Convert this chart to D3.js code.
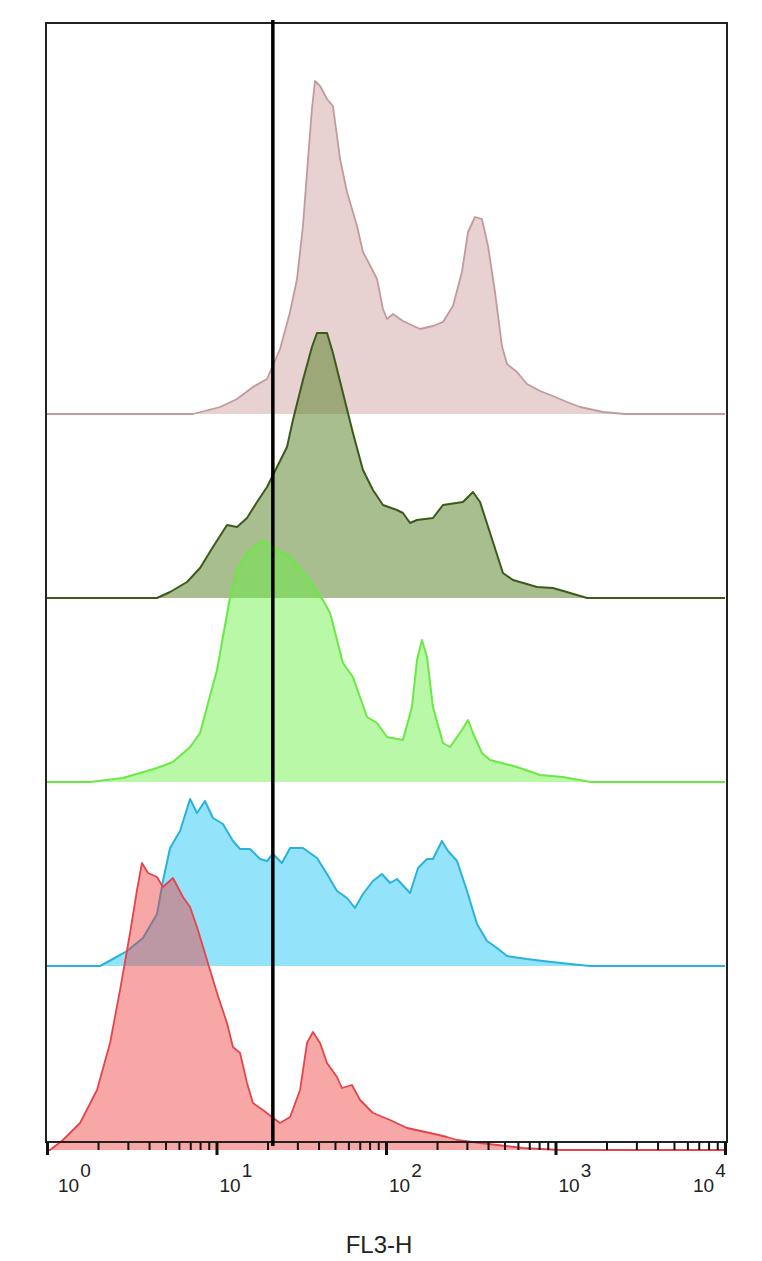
<!DOCTYPE html>
<html><head><meta charset="utf-8">
<script src="https://cdn.jsdelivr.net/npm/d3@7"></script>
<style>body{margin:0;background:#fff}svg{display:block}</style>
</head><body>
<script>
// ---- data (x = log10 of FL3-H, y = event count) ----
const decades = [1, 10, 100, 1000, 10000];
const decadeExponents = ["0", "1", "2", "3", "4"];
const xTitle = "FL3-H";
const gateFL3 = 21.5;

const pinkSeries = [[0,0],[0.861,0],[1.021,7],[1.121,15],[1.215,27],[1.298,35],[1.316,42],[1.375,65],[1.434,102],[1.475,135],[1.510,188],[1.540,255],[1.563,305],[1.581,333],[1.611,328],[1.652,315],[1.687,308],[1.729,255],[1.770,222],[1.829,188],[1.864,162],[1.917,145],[1.947,135],[1.982,105],[2.006,95],[2.041,100],[2.100,93],[2.201,85],[2.277,88],[2.336,92],[2.395,108],[2.448,142],[2.484,182],[2.525,197],[2.566,195],[2.602,168],[2.643,122],[2.684,68],[2.714,50],[2.773,42],[2.832,30],[2.909,23],[2.985,18],[3.068,12],[3.145,7],[3.280,2],[3.410,0],[4,0]];
const darkGreenSeries = [[0,0],[0.649,0],[0.726,6],[0.826,16],[0.903,30],[0.979,51],[1.062,73],[1.121,71],[1.180,80],[1.239,96],[1.298,111],[1.357,131],[1.416,151],[1.451,178],[1.510,218],[1.563,251],[1.593,265],[1.652,265],[1.687,245],[1.746,205],[1.805,165],[1.864,128],[1.923,108],[1.982,93],[2.065,88],[2.100,85],[2.142,75],[2.183,78],[2.277,80],[2.336,93],[2.454,96],[2.513,106],[2.555,96],[2.614,65],[2.690,25],[2.749,18],[2.891,11],[2.985,10],[3.086,5],[3.186,0],[4,0]];
const lightGreenSeries = [[0,0],[0.254,0],[0.448,4],[0.649,14],[0.743,20],[0.844,35],[0.903,49],[0.944,75],[1.003,112],[1.038,145],[1.080,185],[1.121,212],[1.180,229],[1.239,237],[1.274,242],[1.357,232],[1.434,225],[1.534,205],[1.628,182],[1.670,169],[1.746,119],[1.805,105],[1.888,65],[1.947,59],[2.006,45],[2.100,42],[2.153,75],[2.183,122],[2.212,142],[2.242,125],[2.277,75],[2.336,39],[2.378,35],[2.448,52],[2.484,62],[2.513,49],[2.566,29],[2.614,22],[2.773,15],[2.909,7],[3.044,5],[3.204,0],[4,0]];
const blueSeries = [[0,0],[0.313,0],[0.389,7],[0.472,15],[0.566,28],[0.649,52],[0.684,85],[0.726,118],[0.785,135],[0.844,167],[0.885,153],[0.932,165],[0.979,148],[1.038,142],[1.097,125],[1.139,117],[1.198,117],[1.257,107],[1.298,105],[1.333,112],[1.386,103],[1.434,118],[1.510,118],[1.593,108],[1.652,92],[1.711,75],[1.770,68],[1.817,58],[1.864,72],[1.923,85],[1.976,92],[2.024,83],[2.065,87],[2.142,73],[2.189,98],[2.242,107],[2.277,107],[2.330,125],[2.366,115],[2.419,105],[2.478,75],[2.537,42],[2.596,25],[2.655,18],[2.714,10],[2.832,7],[2.926,5],[3.086,2],[3.204,0],[4,0]];
const redSeries = [[0,0],[0.018,0],[0.094,10],[0.195,27],[0.295,60],[0.372,107],[0.431,160],[0.490,217],[0.531,260],[0.560,287],[0.596,277],[0.649,273],[0.684,263],[0.743,272],[0.802,253],[0.844,243],[0.885,223],[0.944,190],[1.003,157],[1.062,127],[1.097,103],[1.139,97],[1.180,67],[1.215,47],[1.274,40],[1.327,33],[1.375,27],[1.434,33],[1.493,60],[1.534,107],[1.569,118],[1.611,107],[1.652,87],[1.711,73],[1.740,62],[1.799,65],[1.847,50],[1.923,37],[2.024,30],[2.124,22],[2.260,17],[2.360,13],[2.419,10],[2.555,7],[2.808,2],[3.027,0],[4,0]];

// ---- layout / style ----
const W = 762, H = 1261;
const frame = {left: 46, top: 23, right: 727, bottom: 1142};
const laneStep = 184;
const layers = [
  {data: pinkSeries,       lane: 4, fill: "rgba(195,140,140,0.40)", stroke: "#c29a9e", sw: 1.8},
  {data: darkGreenSeries,  lane: 3, fill: "rgba(90,130,40,0.52)",   stroke: "#3b5a1b", sw: 2},
  {data: lightGreenSeries, lane: 2, fill: "rgba(100,240,60,0.46)",  stroke: "#6ae846", sw: 2},
  {data: blueSeries,       lane: 1, fill: "rgba(40,200,245,0.50)",  stroke: "#2ab2dc", sw: 2},
  {data: redSeries,        lane: 0, fill: "rgba(240,60,60,0.45)",   stroke: "#e4444c", sw: 1.8}
];

const svg = d3.select("body").append("svg").attr("width", W).attr("height", H)
  .style("font-family", "'Liberation Sans', Arial, sans-serif");

const x = d3.scaleLog().domain([1, 10000]).range([47, 725]);
const y = d3.scaleLinear().domain([0, 1127]).range([1150, 23]);

layers.forEach(L => {
  const off = L.lane * laneStep;
  const area = d3.area()
    .x(d => x(Math.pow(10, d[0])))
    .y0(y(off))
    .y1(d => y(d[1] + off));
  const line = d3.line()
    .x(d => x(Math.pow(10, d[0])))
    .y(d => y(d[1] + off));
  svg.append("path").datum(L.data).attr("d", area).attr("fill", L.fill);
  svg.append("path").datum(L.data).attr("d", line).attr("fill", "none")
    .attr("stroke", L.stroke).attr("stroke-width", L.sw).attr("stroke-linejoin", "round");
});

// frame
svg.append("rect").attr("x", frame.left).attr("y", frame.top)
  .attr("width", frame.right - frame.left).attr("height", frame.bottom - frame.top)
  .attr("fill", "none").attr("stroke", "#222").attr("stroke-width", 2);

// axis ticks
const tickVals = [];
decades.slice(0, -1).forEach(d => { for (let m = 1; m <= 9; m++) tickVals.push(m * d); });
tickVals.push(decades[decades.length - 1]);
const isMajor = v => decades.some(d => Math.abs(v - d) < 1e-9);

const axis = d3.axisBottom(x).tickValues(tickVals).tickFormat("").tickSizeOuter(0);
const gAxis = svg.append("g").attr("transform", `translate(0,${frame.bottom})`).call(axis);
gAxis.select(".domain").remove();
gAxis.selectAll(".tick line")
  .attr("y2", d => isMajor(d) ? 13 : 8)
  .attr("stroke", "#111")
  .attr("stroke-width", d => isMajor(d) ? 3 : 2);

// decade labels 10^n
const labelW = 36;
decades.forEach((d, i) => {
  const x0 = Math.min(Math.max(x(d) + 3, 58), 729 - labelW);
  const t = svg.append("text").attr("x", x0).attr("y", 1192)
    .attr("font-size", 19).attr("fill", "#222");
  t.append("tspan").text("10");
  t.append("tspan").attr("dx", 1).attr("dy", -15).text(decadeExponents[i]);
});

// axis title
svg.append("text").attr("x", 379).attr("y", 1253).attr("text-anchor", "middle")
  .attr("font-size", 24).attr("fill", "#222").text(xTitle);

// gate line
svg.append("line").attr("x1", x(gateFL3)).attr("x2", x(gateFL3))
  .attr("y1", 20).attr("y2", 1146).attr("stroke", "#000").attr("stroke-width", 3.5);
</script>
</body></html>
